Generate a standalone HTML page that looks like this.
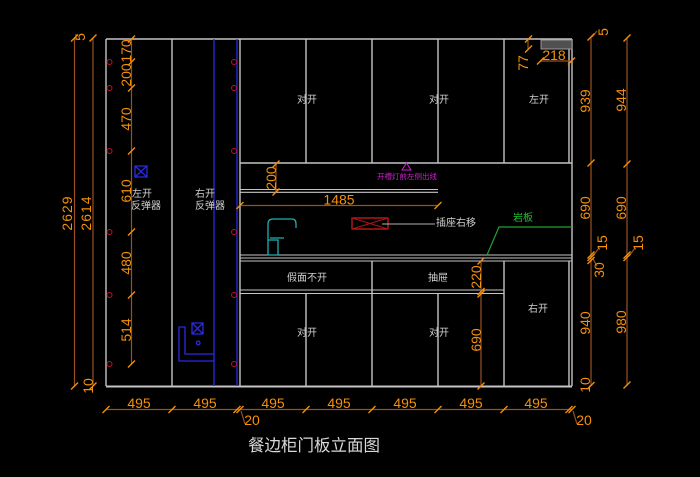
<!DOCTYPE html>
<html><head><meta charset="utf-8"><style>
html,body{margin:0;padding:0;background:#000;}
svg{display:block;}
.n{fill:#f5900a;font-family:"Liberation Sans",sans-serif;font-size:14px;}
.c{fill:#d0d0d0;font-family:"Liberation Sans","Noto Sans CJK SC",sans-serif;font-size:10px;}
</style></head><body>
<svg width="700" height="477" viewBox="0 0 700 477" xmlns="http://www.w3.org/2000/svg">
<rect width="700" height="477" fill="#000"/>
<path fill="none" stroke="#c4c4c4" stroke-width="1.4" d="M106 39H572M106 39V386M172 39V386M240 39V386M306 39V163M372 39V163M438 39V163M504 39V163M569 49V163M572 39V386M240 163H572M372 261V386M504 261V386M306 294V386M438 294V386M569 261V386"/>
<path fill="none" stroke="#c4c4c4" stroke-width="1.1" d="M240 189.5H438M240 192.3H438M240 255H572M240 258H572M240 261H572M240 290H504M240 293.5H504"/>
<path fill="none" stroke="#c4c4c4" stroke-width="2" d="M106 386.5H572"/>
<rect x="541" y="40" width="31" height="9" fill="#505050" stroke="#9a9a9a" stroke-width="1"/>
<path fill="none" stroke="#2a2ae6" stroke-width="1.3" d="M214 39V386M237 39V386M135 166h12v11h-12zM135 166l12 11M147 166l-12 11M192 323h11v11h-11zM192 323l11 11M203 323l-11 11M214 361H179V327h6v27h29M200 343a1.8 1.8 0 1 0-3.6 0a1.8 1.8 0 1 0 3.6 0"/>
<path fill="none" stroke="#c01028" stroke-width="1" d="M112 62a2.5 2.5 0 1 0-5 0a2.5 2.5 0 1 0 5 0M112 88a2.5 2.5 0 1 0-5 0a2.5 2.5 0 1 0 5 0M112 151a2.5 2.5 0 1 0-5 0a2.5 2.5 0 1 0 5 0M112 232a2.5 2.5 0 1 0-5 0a2.5 2.5 0 1 0 5 0M112 295a2.5 2.5 0 1 0-5 0a2.5 2.5 0 1 0 5 0M112 364a2.5 2.5 0 1 0-5 0a2.5 2.5 0 1 0 5 0M236.5 62a2.5 2.5 0 1 0-5 0a2.5 2.5 0 1 0 5 0M236.5 88a2.5 2.5 0 1 0-5 0a2.5 2.5 0 1 0 5 0M236.5 151a2.5 2.5 0 1 0-5 0a2.5 2.5 0 1 0 5 0M236.5 232a2.5 2.5 0 1 0-5 0a2.5 2.5 0 1 0 5 0M236.5 295a2.5 2.5 0 1 0-5 0a2.5 2.5 0 1 0 5 0M236.5 364a2.5 2.5 0 1 0-5 0a2.5 2.5 0 1 0 5 0"/>
<path fill="none" stroke="#9a5020" stroke-width="1.2" d="M131.5 39V364M74.5 38V387M93 38V386M591 37V386M627 38V386M106 409.5H572M240 205.5H438M276 163V192M481 261V386M528 39V49M540 61H572M241 411l4 13M573 411l4 13M593 256l6-8M593 259l4 7M629 256l6-8M592 37l5-6"/>
<path fill="none" stroke="#f5900a" stroke-width="1.4" d="M128 42.5l7-7M128 65.5l7-7M128 91.5l7-7M128 154.5l7-7M128 235.5l7-7M128 298.5l7-7M128 367.5l7-7M71 41.5l7-7M89.5 41.5l7-7M71 389.5l7-7M89.5 389.5l7-7M587.5 40.5l7-7M587.5 166.5l7-7M587.5 258.5l7-7M587.5 261l7-7M587.5 264l7-7M587.5 389l7-7M623.5 41.5l7-7M623.5 167.5l7-7M623.5 258.5l7-7M623.5 261l7-7M623.5 388.5l7-7M102.5 413l7-7M168.5 413l7-7M233.5 413l7-7M236.5 413l7-7M302.5 413l7-7M368.5 413l7-7M434.5 413l7-7M500.5 413l7-7M565.5 413l7-7M568.5 413l7-7M236.5 209l7-7M434.5 209l7-7M272.5 167.5l7-7M272.5 195.5l7-7M477.5 264.5l7-7M477.5 295l7-7M477.5 297.5l7-7M477.5 389.5l7-7M525 42.5l7-7M525 52.5l7-7M537 64.5l7-7M568 64.5l7-7"/>
<g class="n" text-anchor="middle">
<text transform="translate(131,51) rotate(-90)">170</text>
<text transform="translate(131,75) rotate(-90)">200</text>
<text transform="translate(131,119) rotate(-90)">470</text>
<text transform="translate(131,191) rotate(-90)">610</text>
<text transform="translate(131,263) rotate(-90)">480</text>
<text transform="translate(131,330) rotate(-90)">514</text>
<text transform="translate(72,213) rotate(-90)" letter-spacing="1">2629</text>
<text transform="translate(91,213) rotate(-90)" letter-spacing="1">2614</text>
<text transform="translate(85,37) rotate(-90)">5</text>
<text transform="translate(93,386) rotate(-90)">10</text>
<text transform="translate(590,101) rotate(-90)">939</text>
<text transform="translate(590,208) rotate(-90)">690</text>
<text transform="translate(590,323) rotate(-90)">940</text>
<text transform="translate(590,385) rotate(-90)">10</text>
<text transform="translate(626,100) rotate(-90)">944</text>
<text transform="translate(626,208) rotate(-90)">690</text>
<text transform="translate(626,322) rotate(-90)">980</text>
<text transform="translate(607,243) rotate(-90)">15</text>
<text transform="translate(643,243) rotate(-90)">15</text>
<text transform="translate(604,270) rotate(-90)">30</text>
<text transform="translate(608,32) rotate(-90)">5</text>
<text transform="translate(276,178) rotate(-90)">200</text>
<text transform="translate(481,277) rotate(-90)">220</text>
<text transform="translate(481,340) rotate(-90)">690</text>
<text transform="translate(528,63) rotate(-90)">77</text>
<text x="139" y="408">495</text>
<text x="205" y="408">495</text>
<text x="273" y="408">495</text>
<text x="339" y="408">495</text>
<text x="405" y="408">495</text>
<text x="471" y="408">495</text>
<text x="536" y="408">495</text>
<text x="339" y="204.5">1485</text>
<text x="554" y="60">218</text>
<text x="252" y="425">20</text>
<text x="584" y="425">20</text>
</g>
<g class="c" text-anchor="middle">
<text x="307" y="103">对开</text>
<text x="439" y="103">对开</text>
<text x="539" y="103">左开</text>
<text x="307" y="281">假面不开</text>
<text x="438" y="281">抽屉</text>
<text x="307" y="336">对开</text>
<text x="439" y="336">对开</text>
<text x="538" y="312">右开</text>
</g>
<g class="c">
<text x="132" y="197">左开</text>
<text x="131" y="209">反弹器</text>
<text x="195" y="197">右开</text>
<text x="195" y="209">反弹器</text>
<text x="436" y="226">插座右移</text>
</g>
<path d="M402 170h9l-4.5-7z" fill="none" stroke="#d020d0" stroke-width="1"/>
<text x="377" y="179" fill="#d020d0" font-family="'Liberation Sans','Noto Sans CJK SC',sans-serif" font-size="7.5">开槽灯前左侧出线</text>
<rect x="352" y="218" width="36" height="11" fill="none" stroke="#d82020" stroke-width="1.2"/>
<path d="M352 218l36 11M388 218l-36 11" stroke="#a01818" stroke-width="1"/>
<path d="M382 224H435" stroke="#b0b0b0" stroke-width="1"/>
<path fill="none" stroke="#20b0b0" stroke-width="1.3" d="M268 255V224Q268 219 273 219H292Q296 219 296 224V228M268 240h10v15h-10zM270 238H284"/>
<path d="M487 255L499 227H572" fill="none" stroke="#20a030" stroke-width="1.2"/>
<text x="513" y="221" fill="#20c030" font-family="'Liberation Sans','Noto Sans CJK SC',sans-serif" font-size="10">岩板</text>
<text x="248" y="451" fill="#d8d8d8" font-family="'Liberation Sans','Noto Sans CJK SC',sans-serif" font-size="16.5">餐边柜门板立面图</text>
</svg>
</body></html>
